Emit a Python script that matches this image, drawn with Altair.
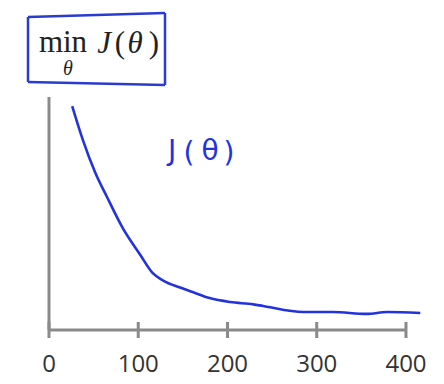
import altair as alt
import pandas as pd

# curve values
iterations = [26, 38, 52, 65, 83, 102, 116, 128, 147, 161, 180, 203, 229, 240, 285, 318, 356, 379, 416]
cost = [9.61, 8.15, 6.74, 5.71, 4.35, 3.24, 2.45, 2.12, 1.82, 1.63, 1.37, 1.20, 1.10, 1.03, 0.77, 0.77, 0.69, 0.77, 0.73]
tick_values = [0, 100, 200, 300, 400]
tick_labels = ["0", "100", "200", "300", "400"]
x_max_axis = 400
y_max_axis = 10

BLUE = "#2233dd"
GRAY = "#8a8a8a"
BOXC = "#2a3bd0"

curve = pd.DataFrame({"iter": iterations, "J": cost})
ticks = pd.DataFrame({"iter": tick_values, "label": tick_labels, "J": [0] * len(tick_values)})
hline = pd.DataFrame({"x": [0], "x2": [x_max_axis], "y": [0]})
vline = pd.DataFrame({"x": [0], "y": [0], "y2": [y_max_axis]})
dummy = pd.DataFrame({"a": [0]})

# plot area is the whole 444x384 page; domains place 0 of the axes at (49, 330)
xs = alt.Scale(domain=[-54.9, 442.6], nice=False, zero=False)
ys = alt.Scale(domain=[-2.318, 14.163], nice=False, zero=False)

X = lambda f: alt.X(f, scale=xs, axis=None)
Y = lambda f: alt.Y(f, scale=ys, axis=None)

line = alt.Chart(curve).mark_line(color=BLUE, strokeWidth=2.6, interpolate="monotone").encode(
    x=X("iter:Q"), y=Y("J:Q"))

h = alt.Chart(hline).mark_rule(color=GRAY, strokeWidth=3).encode(
    x=X("x:Q"), x2="x2:Q", y=Y("y:Q"))
v = alt.Chart(vline).mark_rule(color=GRAY, strokeWidth=3).encode(
    x=X("x:Q"), y=Y("y:Q"), y2="y2:Q")
tk = alt.Chart(ticks).mark_rule(color=GRAY, strokeWidth=3).encode(
    x=X("iter:Q"), y=alt.value(322), y2=alt.value(338))
lbl = alt.Chart(ticks).mark_text(font="Open Sans", fontSize=24, color="#333333",
                                 baseline="middle", dy=35).encode(
    x=X("iter:Q"), y=Y("J:Q"), text="label:N")

def seg(x1, y1, x2, y2):
    return alt.Chart(dummy).mark_rule(color=BOXC, strokeWidth=2.5).encode(
        x=alt.value(x1), y=alt.value(y1), x2=alt.value(x2), y2=alt.value(y2))

box = [seg(28, 17, 165, 13), seg(28, 82, 165, 85), seg(28, 17, 28, 82), seg(165, 13, 165, 85)]

def txt(s, x, y, size, style="normal", font="Liberation Serif", color="#222222"):
    return alt.Chart(dummy).mark_text(text=s, font=font, fontSize=size, fontStyle=style,
                                      color=color, align="center",
                                      baseline="alphabetic").encode(
        x=alt.value(x), y=alt.value(y))

HF = "DejaVu Sans"
texts = [
    txt("min", 63, 52, 31),
    txt("θ", 68, 75, 20, "italic"),
    txt("J", 104, 53, 31, "italic"),
    txt("(", 120, 53, 31),
    txt("θ", 135, 53, 31, "italic"),
    txt(")", 154, 53, 31),
    txt("J", 172, 160, 28, font=HF, color=BLUE),
    txt("(", 189, 162, 28, font=HF, color=BLUE),
    txt("θ", 210, 160, 28, font=HF, color=BLUE),
    txt(")", 229, 162, 28, font=HF, color=BLUE),
]

chart = alt.layer(h, v, tk, lbl, line, *box, *texts).properties(
    width=444, height=384,
    autosize=alt.AutoSizeParams(type="none"),
    padding=0,
    background="white",
).configure_view(stroke=None)

chart.save("out.html", embed_options={"renderer": "svg", "actions": False})
